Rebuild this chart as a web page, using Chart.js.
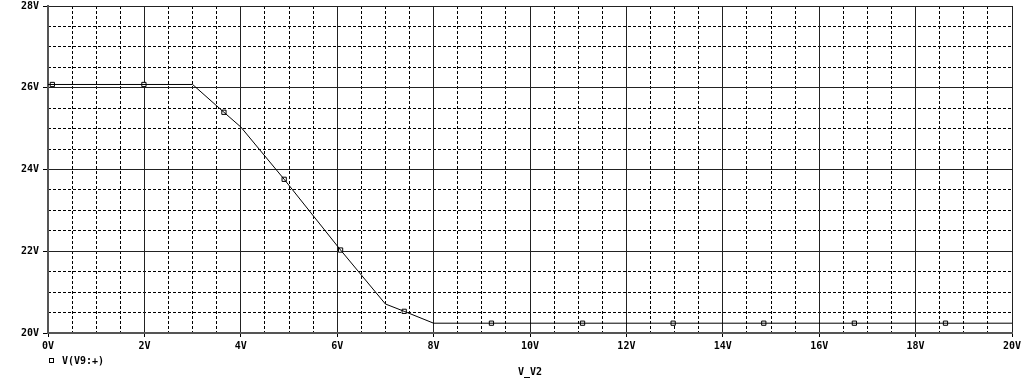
<!DOCTYPE html>
<html>
<head>
<meta charset="utf-8">
<script src="https://cdn.jsdelivr.net/npm/chart.js@4/dist/chart.umd.min.js"></script>
<style>
  html, body { margin: 0; padding: 0; background: #fff; }
  #wrap { width: 1024px; height: 379px; }
</style>
</head>
<body>
<div id="wrap"><canvas id="plot"></canvas></div>
<script>
// trace V(V9:+) vs V_V2
let sweepV = [0, 3.0, 3.65, 4.0, 4.9, 6.07, 7.0, 7.39, 8.0, 20];
let outV = [26.08, 26.08, 25.40, 25.04, 23.76, 22.03, 20.71, 20.53, 20.24, 20.24];

// little square markers on the trace
let markX = [0.09, 1.99, 3.65, 4.9, 6.07, 7.39, 9.2, 11.09, 12.97, 14.85, 16.73, 18.62];
let markY = [26.08, 26.08, 25.40, 23.76, 22.03, 20.53, 20.24, 20.24, 20.24, 20.24, 20.24, 20.24];

let xRange = [0, 20];
let yRange = [20, 28];
let traceName = 'V(V9:+)';
let xName = 'V_V2';

let font = { family: 'DejaVu Sans Mono', size: 10, weight: 'bold' };

let linePts = sweepV.map((v, i) => ({ x: v, y: outV[i] }));
let markPts = markX.map((v, i) => ({ x: v, y: markY[i] }));

function minorColor(ctx) {
    let v = ctx.tick ? ctx.tick.value : 0;
    return Math.abs(v / 2 - Math.round(v / 2)) < 1e-6 ? 'rgba(0,0,0,0)' : '#000';
}

// legend under the tick labels, like the probe window
let probeLegend = {
    id: 'probeLegend',
    afterDraw(chart) {
        let c = chart.ctx;
        let left = chart.chartArea.left;
        c.save();
        c.strokeStyle = '#000';
        c.lineWidth = 1;
        c.strokeRect(left + 1.5, 358.5, 4, 4);
        c.fillStyle = '#000';
        c.font = 'bold 10px "DejaVu Sans Mono"';
        c.textBaseline = 'middle';
        c.fillText(traceName, left + 14, 361);
        c.restore();
    }
};

new Chart(document.getElementById('plot').getContext('2d'), {
    type: 'scatter',
    data: {
        datasets: [{
            label: traceName,
            data: linePts,
            showLine: true,
            borderColor: '#000',
            borderWidth: 1,
            pointRadius: 0,
            tension: 0,
            xAxisID: 'x',
            yAxisID: 'y'
        }, {
            label: traceName + ' marks',
            data: markPts,
            showLine: false,
            pointStyle: 'rect',
            pointRadius: 3,
            borderColor: '#000',
            borderWidth: 1,
            backgroundColor: '#fff',
            xAxisID: 'x',
            yAxisID: 'y'
        }]
    },
    options: {
        responsive: true,
        maintainAspectRatio: false,
        animation: false,
        events: [],
        layout: { padding: { top: 6, right: 12, left: 0, bottom: 0 } },
        plugins: {
            legend: { display: false },
            tooltip: { enabled: false }
        },
        scales: {
            xm: {
                type: 'linear',
                position: 'bottom',
                min: xRange[0],
                max: xRange[1],
                ticks: { display: false, stepSize: 0.5 },
                grid: { color: minorColor, lineWidth: 1, drawTicks: false },
                border: { display: false, dash: [3, 2] },
                afterFit(s) { s.height = 0; s.paddingLeft = 0; s.paddingRight = 0; }
            },
            ym: {
                type: 'linear',
                position: 'left',
                min: yRange[0],
                max: yRange[1],
                ticks: { display: false, stepSize: 0.5 },
                grid: { color: minorColor, lineWidth: 1, drawTicks: false },
                border: { display: false, dash: [3, 2] },
                afterFit(s) { s.width = 0; s.paddingTop = 0; s.paddingBottom = 0; }
            },
            x: {
                type: 'linear',
                position: 'bottom',
                min: xRange[0],
                max: xRange[1],
                ticks: {
                    stepSize: 2,
                    color: '#000',
                    font: font,
                    padding: 3,
                    maxRotation: 0,
                    callback: v => v + 'V'
                },
                grid: { color: '#222', lineWidth: 1, tickLength: 4, tickColor: '#000' },
                border: { color: '#555', width: 2 },
                title: {
                    display: true,
                    text: xName,
                    color: '#000',
                    font: font,
                    padding: { top: 0, bottom: 1 }
                },
                afterFit(s) { s.height = 46; s.paddingLeft = 0; s.paddingRight = 0; }
            },
            y: {
                type: 'linear',
                position: 'left',
                min: yRange[0],
                max: yRange[1],
                ticks: {
                    stepSize: 2,
                    color: '#000',
                    font: font,
                    padding: 4,
                    callback: v => v + 'V'
                },
                grid: { color: '#222', lineWidth: 1, tickLength: 5, tickColor: '#000' },
                border: { color: '#555', width: 2 },
                afterFit(s) { s.width = 48; s.paddingTop = 0; s.paddingBottom = 0; }
            }
        }
    },
    plugins: [probeLegend]
});
</script>
</body>
</html>
